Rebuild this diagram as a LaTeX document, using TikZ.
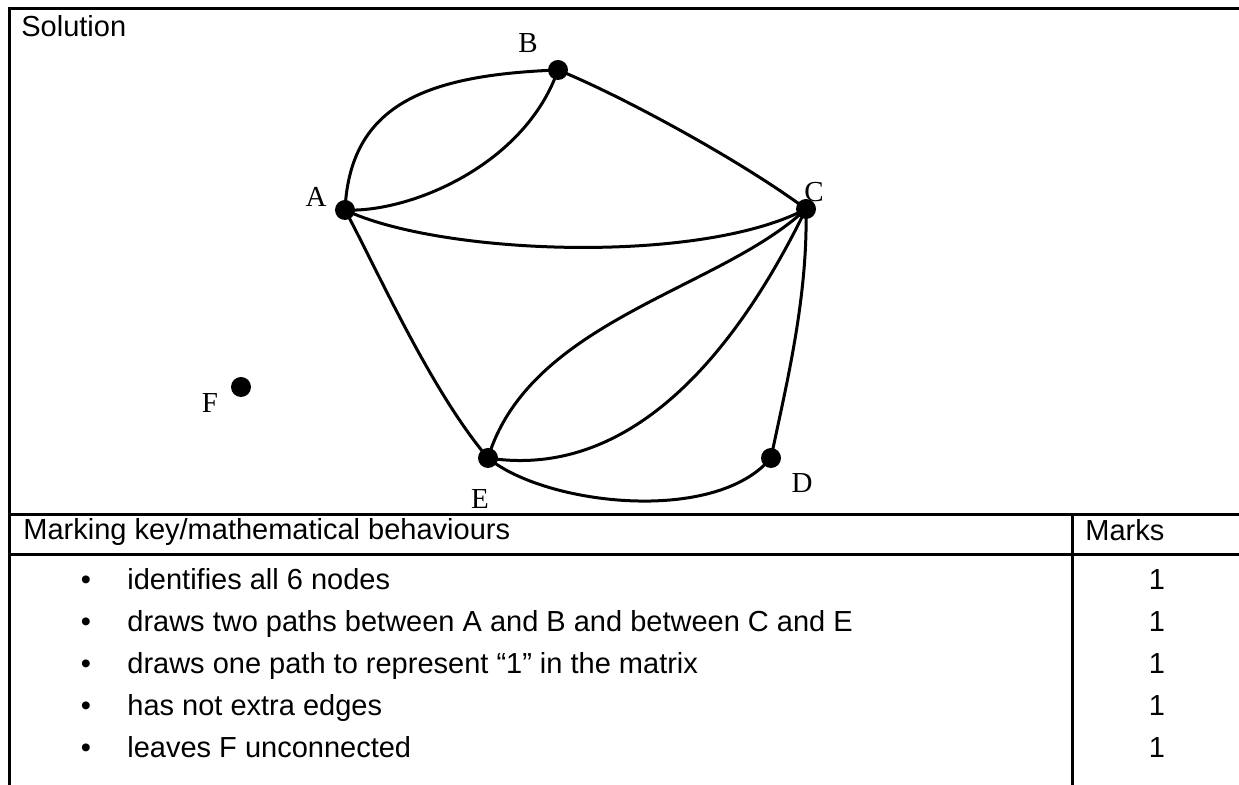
\documentclass[tikz,border=0pt]{standalone}
\usepackage{fontspec}
\setmainfont{Liberation Serif}
\newfontfamily\arialf{Liberation Sans}
\begin{document}
\begin{tikzpicture}[x=0.5pt,y=-0.5pt,
  dot/.style={circle,fill=black,inner sep=0pt,minimum size=10pt},
  edge/.style={line width=1.5pt},
  frame/.style={line width=1.5pt},
  lbl/.style={anchor=base,inner sep=0pt,font=\fontsize{14.5}{17}\selectfont},
  txt/.style={anchor=base west,inner sep=0pt,font=\arialf\fontsize{14.5}{17}\selectfont},
  mk/.style={anchor=base,inner sep=0pt,font=\arialf\fontsize{14.5}{17}\selectfont}]
\useasboundingbox (0,0) rectangle (1239,785);
% frame and table
\draw[frame] (9,785) -- (9,9) -- (1239,9);
\draw[frame] (9,515) -- (1239,515);
\draw[frame] (9,555) -- (1239,555);
\draw[frame] (1072,515) -- (1072,785);
% texts
\node[txt] (sol) at (21,37) {Solution};
\node[txt] (hd) at (23,540) {Marking key/mathematical behaviours};
\node[txt] (mkh) at (1085,541) {Marks};
\foreach \i/\t/\y in {1/identifies all 6 nodes/590,
  2/draws two paths between A and B and between C and E/632,
  3/draws one path to represent “1” in the matrix/674,
  4/has not extra edges/716,
  5/leaves F unconnected/758}{
  \node[mk] (b\i) at (86,\y) {•};
  \node[txt] (r\i) at (127,\y) {\t};
  \node[mk] (m\i) at (1157,\y) {1};
}
% graph nodes
\node[dot] (A) at (345,210) {};
\node[dot] (B) at (558,70) {};
\node[dot] (C) at (806,209) {};
\node[dot] (D) at (771,458) {};
\node[dot] (E) at (488,458) {};
\node[dot] (F) at (241,387) {};
\node[lbl] (lA) at (316,207) {A};
\node[lbl] (lB) at (528,53) {B};
\node[lbl] (lC) at (814,202) {C};
\node[lbl] (lD) at (802,493) {D};
\node[lbl] (lE) at (480,509) {E};
\node[lbl] (lF) at (210,413) {F};
% edges
\draw[edge] (A.center) .. controls (350,105) and (425,75) .. (B.center);
\draw[edge] (A.center) .. controls (410,213) and (525,165) .. (B.center);
\draw[edge] (B.center) .. controls (620,95) and (740,160) .. (C.center);
\draw[edge] (A.center) .. controls (440,255) and (700,265) .. (C.center);
\draw[edge] (A.center) .. controls (375,265) and (430,390) .. (E.center);
\draw[edge] (E.center) .. controls (530,320) and (720,290) .. (C.center);
\draw[edge] (E.center) .. controls (630,480) and (735,355) .. (C.center);
\draw[edge] (C.center) .. controls (808,300) and (785,390) .. (D.center);
\draw[edge] (E.center) .. controls (545,505) and (715,525) .. (D.center);
\end{tikzpicture}
\end{document}
